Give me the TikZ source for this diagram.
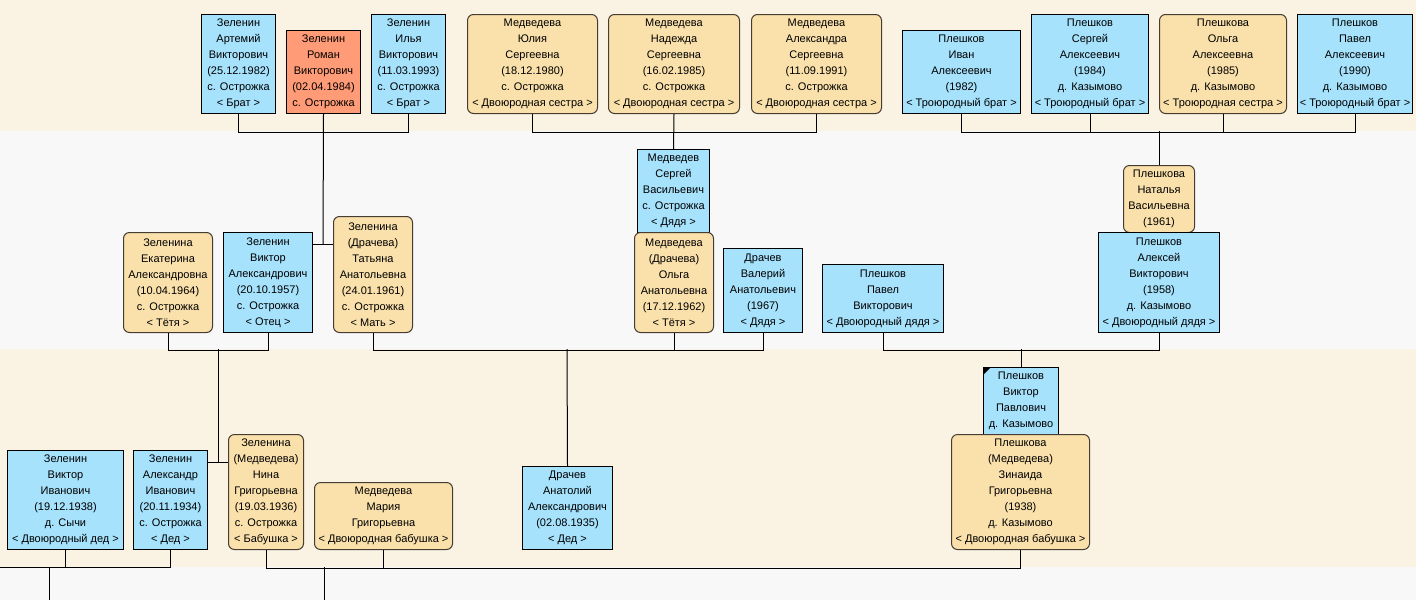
\documentclass[tikz,border=0pt]{standalone}
\usepackage{fontspec}
\setmainfont{Liberation Sans}
\definecolor{male}{RGB}{166,226,252}
\definecolor{female}{RGB}{250,225,171}
\definecolor{self}{RGB}{255,155,118}
\definecolor{cream}{RGB}{250,242,226}
\definecolor{grayband}{RGB}{248,248,248}
\definecolor{fborder}{RGB}{70,60,50}
\tikzset{
  person/.style={anchor=north west, inner sep=0pt, align=center,
    font=\fontsize{11}{16}\selectfont, line width=1pt},
  mbox/.style={person, fill=male, draw=black},
  fbox/.style={person, fill=female, draw=fborder, rounded corners=6pt},
  sbox/.style={person, fill=self, draw=black},
  link/.style={draw=black, line width=1pt},
}
\newcommand{\pbox}[8]{% style, name, x1, y1, x2, y2, text
  \node[#1, minimum width=#5pt-#3pt, minimum height=#6pt-#4pt] (#2) at (#3,#4) {#7};}
\begin{document}
\begin{tikzpicture}[x=1pt,y=-1pt]
\useasboundingbox (0,0) rectangle (1416,600);
% bands
\fill[cream] (0,0) rectangle (1416,131);
\fill[grayband] (0,131) rectangle (1416,349);
\fill[cream] (0,349) rectangle (1416,567);
\fill[grayband] (0,567) rectangle (1416,600);

% top row
\pbox{mbox}{art}{201}{14}{275}{113}{Зеленин\\Артемий\\Викторович\\(25.12.1982)\\с. Острожка\\< Брат >}{}
\pbox{sbox}{rom}{286}{30}{360}{113}{Зеленин\\Роман\\Викторович\\(02.04.1984)\\с. Острожка}{}
\pbox{mbox}{ily}{371}{14}{445}{113}{Зеленин\\Илья\\Викторович\\(11.03.1993)\\с. Острожка\\< Брат >}{}
\pbox{fbox}{yul}{467}{14}{597}{113}{Медведева\\Юлия\\Сергеевна\\(18.12.1980)\\с. Острожка\\< Двоюродная сестра >}{}
\pbox{fbox}{nad}{608}{14}{739}{113}{Медведева\\Надежда\\Сергеевна\\(16.02.1985)\\с. Острожка\\< Двоюродная сестра >}{}
\pbox{fbox}{ale}{751}{14}{881}{113}{Медведева\\Александра\\Сергеевна\\(11.09.1991)\\с. Острожка\\< Двоюродная сестра >}{}
\pbox{mbox}{iva}{902}{30}{1020}{113}{Плешков\\Иван\\Алексеевич\\(1982)\\< Троюродный брат >}{}
\pbox{mbox}{ser}{1031}{14}{1148}{113}{Плешков\\Сергей\\Алексеевич\\(1984)\\д. Казымово\\< Троюродный брат >}{}
\pbox{fbox}{olg}{1159}{14}{1286}{113}{Плешкова\\Ольга\\Алексеевна\\(1985)\\д. Казымово\\< Троюродная сестра >}{}
\pbox{mbox}{pav}{1297}{14}{1412}{113}{Плешков\\Павел\\Алексеевич\\(1990)\\д. Казымово\\< Троюродный брат >}{}

% middle row
\pbox{fbox}{eka}{123}{232}{212}{332}{Зеленина\\Екатерина\\Александровна\\(10.04.1964)\\с. Острожка\\< Тётя >}{}
\pbox{mbox}{vik}{223}{232}{312}{332}{Зеленин\\Виктор\\Александрович\\(20.10.1957)\\с. Острожка\\< Отец >}{}
\pbox{fbox}{tat}{333}{216}{412}{332}{Зеленина\\(Драчева)\\Татьяна\\Анатольевна\\(24.01.1961)\\с. Острожка\\< Мать >}{}
\pbox{mbox}{sergm}{637}{149}{709}{232}{Медведев\\Сергей\\Васильевич\\с. Острожка\\< Дядя >}{}
\pbox{fbox}{olgm}{634}{232}{713}{332}{Медведева\\(Драчева)\\Ольга\\Анатольевна\\(17.12.1962)\\< Тётя >}{}
\pbox{mbox}{val}{723}{248}{802}{332}{Драчев\\Валерий\\Анатольевич\\(1967)\\< Дядя >}{}
\pbox{mbox}{pavv}{822}{264}{943}{332}{Плешков\\Павел\\Викторович\\< Двоюродный дядя >}{}
\pbox{fbox}{nat}{1123}{165}{1194}{232}{Плешкова\\Наталья\\Васильевна\\(1961)}{}
\pbox{mbox}{alek}{1098}{232}{1219}{332}{Плешков\\Алексей\\Викторович\\(1958)\\д. Казымово\\< Двоюродный дядя >}{}

% bottom row
\pbox{mbox}{viki}{7}{450}{123}{549}{Зеленин\\Виктор\\Иванович\\(19.12.1938)\\д. Сычи\\< Двоюродный дед >}{}
\pbox{mbox}{alex}{133}{450}{207}{549}{Зеленин\\Александр\\Иванович\\(20.11.1934)\\с. Острожка\\< Дед >}{}
\pbox{fbox}{nina}{228}{434}{303}{549}{Зеленина\\(Медведева)\\Нина\\Григорьевна\\(19.03.1936)\\с. Острожка\\< Бабушка >}{}
\pbox{fbox}{mar}{314}{482}{452}{549}{Медведева\\Мария\\Григорьевна\\< Двоюродная бабушка >}{}
\pbox{mbox}{anat}{522}{466}{612}{549}{Драчев\\Анатолий\\Александрович\\(02.08.1935)\\< Дед >}{}
\pbox{mbox}{vikp}{983}{367}{1058}{434}{Плешков\\Виктор\\Павлович\\д. Казымово}{}
\pbox{fbox}{zin}{951}{434}{1089}{549}{Плешкова\\(Медведева)\\Зинаида\\Григорьевна\\(1938)\\д. Казымово\\< Двоюродная бабушка >}{}
% deceased mark
\fill[black] (vikp.north west) -- ++(8,0) -- ++(-8,8) -- cycle;

% coordinates
\coordinate (m1) at (323,244);
\coordinate (m2) at (218,462);
\coordinate (j1) at (218,349);
\coordinate (j2) at (567,349);
\coordinate (lft) at (0,567);
\coordinate (k1) at (49,567);
\coordinate (k1b) at (49,600);
\coordinate (k2) at (324,567);
\coordinate (k2b) at (324,600);

% top connectors
\draw[link] (art.south) -- ++(0,18) -| (ily.south);
\draw[link] (rom.south) -- (m1);
\draw[link] (vik.east |- m1) -- (tat.west |- m1);
\draw[link] (yul.south) -- ++(0,18) -| (ale.south);
\draw[link] (nad.south) -- (sergm.north);
\draw[link] (iva.south) -- ++(0,18) -| (pav.south);
\draw[link] (ser.south) -- ++(0,18);
\draw[link] (olg.south) -- ++(0,18);
\draw[link] (nat.north) -- ++(0,-34);

% middle connectors
\draw[link] (eka.south) -- ++(0,17) -| (vik.south);
\draw[link] (j1) -- (m2);
\draw[link] (alex.east |- m2) -- (nina.west |- m2);
\draw[link] (tat.south) -- ++(0,17) -| (val.south);
\draw[link] (olgm.south) -- ++(0,17);
\draw[link] (j2) -- (anat.north);
\draw[link] (pavv.south) -- ++(0,17) -| (alek.south);
\draw[link] (vikp.north) -- ++(0,-18);

% bottom connectors
\draw[link] (lft) -| (alex.south);
\draw[link] (viki.south) -- ++(0,18);
\draw[link] (k1) -- (k1b);
\draw[link] (nina.south) -- ++(0,18) -| (zin.south);
\draw[link] (mar.south) -- ++(0,18);
\draw[link] (k2) -- (k2b);
\end{tikzpicture}
\end{document}
